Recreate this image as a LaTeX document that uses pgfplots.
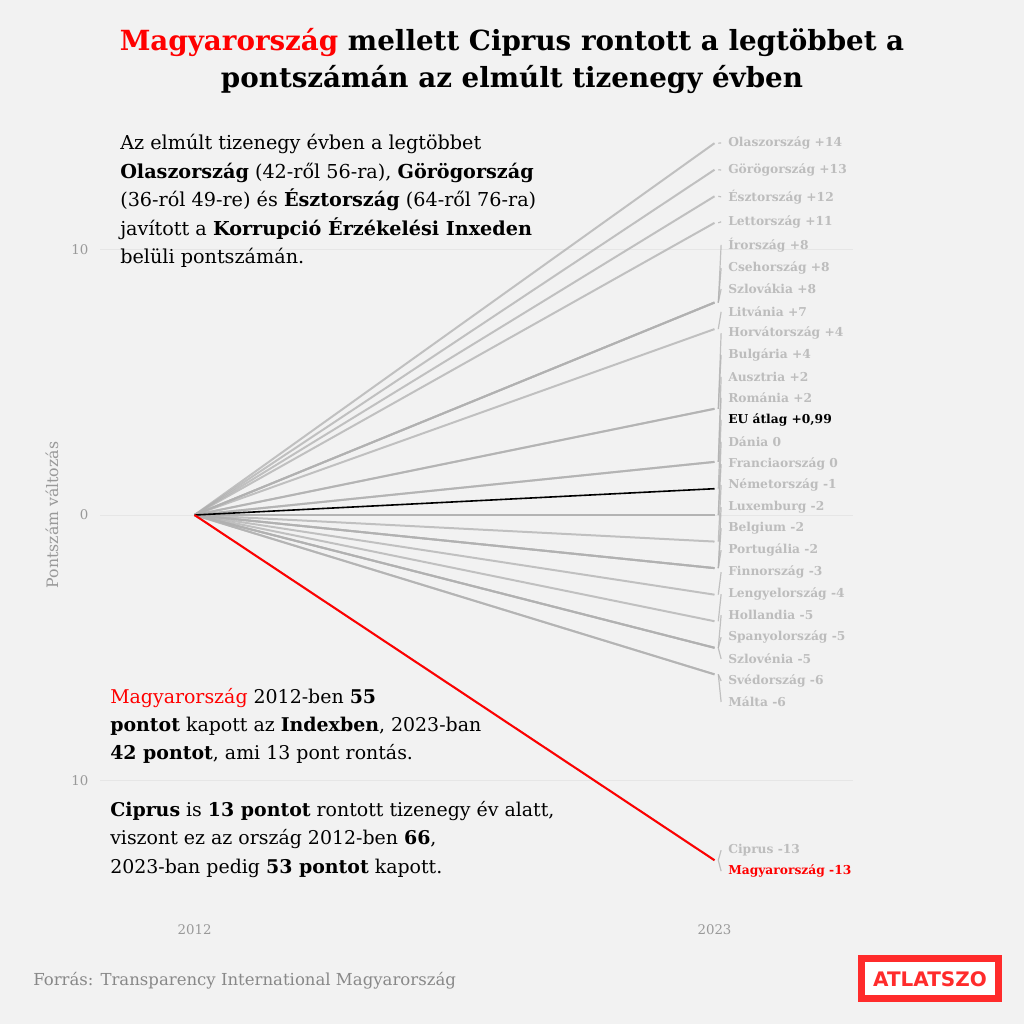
\documentclass[border=0pt]{standalone}
\usepackage{pgfplots}
\pgfplotsset{compat=1.18}
\usepackage{fontspec}
\setmainfont{DejaVu Serif}
\newfontfamily\logofont{DejaVu Sans}
\definecolor{bg}{HTML}{F2F2F2}
\definecolor{lgray}{HTML}{B0B0B0}
\definecolor{lab}{HTML}{BDBDBD}
\definecolor{tickc}{HTML}{999999}
\definecolor{srcc}{HTML}{888888}
\definecolor{gridc}{HTML}{E6E6E6}
\definecolor{myred}{HTML}{FF0000}
\definecolor{logored}{HTML}{FF2B2B}
\begin{document}
\begin{tikzpicture}[
  lc/.style={draw=lgray, draw opacity=0.75, line width=1.5pt},
  seg/.style={draw=lgray, draw opacity=0.75, line width=0.9pt},
  lbl/.style={anchor=west, inner sep=0pt, text=lab, font=\bfseries\fontsize{9.2}{11}\selectfont},
]
\begin{scope}[x=0.75pt,y=-0.75pt]
\fill[bg] (0,0) rectangle (1024,1024);
\useasboundingbox (0,0) rectangle (1024,1024);
\end{scope}
\begin{axis}[
  at={(75pt,-690pt)}, anchor=south west,
  scale only axis, width=564.75pt, height=607.5pt,
  xmin=2010, xmax=2025.93, ymin=-15.25, ymax=15.25,
  axis line style={draw=none},
  major tick length=0pt,
  xtick={2012,2023}, xticklabels={2012,2023},
  ytick={-10,0,10}, yticklabels={10,0,10},
  ymajorgrids, grid style={draw=gridc, line width=0.75pt},
  ticklabel style={font=\fontsize{10}{12}\selectfont, text=tickc},
  yticklabel style={xshift=-5.25pt},
  /pgf/number format/assume math mode=true,
  clip=false,
]
% lines 2012 -> 2023 (score change)
\addplot[lc] coordinates {(2012,0) (2023,14)};
\addplot[lc] coordinates {(2012,0) (2023,13)};
\addplot[lc] coordinates {(2012,0) (2023,12)};
\addplot[lc] coordinates {(2012,0) (2023,11)};
\addplot[lc] coordinates {(2012,0) (2023,8)};
\addplot[lc] coordinates {(2012,0) (2023,8)};
\addplot[lc] coordinates {(2012,0) (2023,8)};
\addplot[lc] coordinates {(2012,0) (2023,7)};
\addplot[lc] coordinates {(2012,0) (2023,4)};
\addplot[lc] coordinates {(2012,0) (2023,4)};
\addplot[lc] coordinates {(2012,0) (2023,2)};
\addplot[lc] coordinates {(2012,0) (2023,2)};
\addplot[lc] coordinates {(2012,0) (2023,0)};
\addplot[lc] coordinates {(2012,0) (2023,0)};
\addplot[lc] coordinates {(2012,0) (2023,-1)};
\addplot[lc] coordinates {(2012,0) (2023,-2)};
\addplot[lc] coordinates {(2012,0) (2023,-2)};
\addplot[lc] coordinates {(2012,0) (2023,-2)};
\addplot[lc] coordinates {(2012,0) (2023,-3)};
\addplot[lc] coordinates {(2012,0) (2023,-4)};
\addplot[lc] coordinates {(2012,0) (2023,-5)};
\addplot[lc] coordinates {(2012,0) (2023,-5)};
\addplot[lc] coordinates {(2012,0) (2023,-5)};
\addplot[lc] coordinates {(2012,0) (2023,-6)};
\addplot[lc] coordinates {(2012,0) (2023,-6)};
\addplot[lc] coordinates {(2012,0) (2023,-13)};
\addplot[draw=black, line width=1.2pt] coordinates {(2012,0) (2023,0.99)};
\addplot[draw=myred, line width=1.5pt] coordinates {(2012,0) (2023,-13)};
% label leader segments
\addplot[seg] coordinates {(2023.08,14) (2023.14,14.01)};
\addplot[seg] coordinates {(2023.08,13) (2023.14,12.99)};
\addplot[seg] coordinates {(2023.08,12) (2023.14,11.98)};
\addplot[seg] coordinates {(2023.08,11) (2023.14,11.04)};
\addplot[seg] coordinates {(2023.08,8) (2023.14,10.17)};
\addplot[seg] coordinates {(2023.08,8) (2023.14,9.30)};
\addplot[seg] coordinates {(2023.08,8) (2023.14,8.51)};
\addplot[seg] coordinates {(2023.08,7) (2023.14,7.65)};
\addplot[seg] coordinates {(2023.08,4) (2023.14,6.85)};
\addplot[seg] coordinates {(2023.08,4) (2023.14,6.03)};
\addplot[seg] coordinates {(2023.08,2) (2023.14,5.20)};
\addplot[seg] coordinates {(2023.08,2) (2023.14,4.41)};
\addplot[seg] coordinates {(2023.08,0.99) (2023.14,3.58)};
\addplot[seg] coordinates {(2023.08,0) (2023.14,2.75)};
\addplot[seg] coordinates {(2023.08,0) (2023.14,1.92)};
\addplot[seg] coordinates {(2023.08,-1) (2023.14,1.13)};
\addplot[seg] coordinates {(2023.08,-2) (2023.14,0.30)};
\addplot[seg] coordinates {(2023.08,-2) (2023.14,-0.49)};
\addplot[seg] coordinates {(2023.08,-2) (2023.14,-1.32)};
\addplot[seg] coordinates {(2023.08,-3) (2023.14,-2.15)};
\addplot[seg] coordinates {(2023.08,-4) (2023.14,-2.98)};
\addplot[seg] coordinates {(2023.08,-5) (2023.14,-3.77)};
\addplot[seg] coordinates {(2023.08,-5) (2023.14,-4.60)};
\addplot[seg] coordinates {(2023.08,-5) (2023.14,-5.42)};
\addplot[seg] coordinates {(2023.08,-6) (2023.14,-6.25)};
\addplot[seg] coordinates {(2023.08,-6) (2023.14,-7.04)};
\addplot[seg] coordinates {(2023.08,-13) (2023.14,-12.62)};
\addplot[seg] coordinates {(2023.08,-13) (2023.14,-13.41)};
% labels
\node[lbl] at (axis cs:2023.285,14.01) {Olaszország +14};
\node[lbl] at (axis cs:2023.285,12.99) {Görögország +13};
\node[lbl] at (axis cs:2023.285,11.98) {Észtország +12};
\node[lbl] at (axis cs:2023.285,11.04) {Lettország +11};
\node[lbl] at (axis cs:2023.285,10.17) {Írország +8};
\node[lbl] at (axis cs:2023.285,9.30) {Csehország +8};
\node[lbl] at (axis cs:2023.285,8.51) {Szlovákia +8};
\node[lbl] at (axis cs:2023.285,7.65) {Litvánia +7};
\node[lbl] at (axis cs:2023.285,6.85) {Horvátország +4};
\node[lbl] at (axis cs:2023.285,6.03) {Bulgária +4};
\node[lbl] at (axis cs:2023.285,5.20) {Ausztria +2};
\node[lbl] at (axis cs:2023.285,4.41) {Románia +2};
\node[lbl, text=black] at (axis cs:2023.285,3.58) {EU átlag +0,99};
\node[lbl] at (axis cs:2023.285,2.75) {Dánia 0};
\node[lbl] at (axis cs:2023.285,1.92) {Franciaország 0};
\node[lbl] at (axis cs:2023.285,1.13) {Németország -1};
\node[lbl] at (axis cs:2023.285,0.30) {Luxemburg -2};
\node[lbl] at (axis cs:2023.285,-0.49) {Belgium -2};
\node[lbl] at (axis cs:2023.285,-1.32) {Portugália -2};
\node[lbl] at (axis cs:2023.285,-2.15) {Finnország -3};
\node[lbl] at (axis cs:2023.285,-2.98) {Lengyelország -4};
\node[lbl] at (axis cs:2023.285,-3.77) {Hollandia -5};
\node[lbl] at (axis cs:2023.285,-4.60) {Spanyolország -5};
\node[lbl] at (axis cs:2023.285,-5.42) {Szlovénia -5};
\node[lbl] at (axis cs:2023.285,-6.25) {Svédország -6};
\node[lbl] at (axis cs:2023.285,-7.04) {Málta -6};
\node[lbl] at (axis cs:2023.285,-12.62) {Ciprus -13};
\node[lbl, text=myred] at (axis cs:2023.285,-13.41) {Magyarország -13};
\end{axis}
\begin{scope}[x=0.75pt,y=-0.75pt]
\node[align=center, font=\bfseries\fontsize{20.8}{27.5}\selectfont] at (512,61)
  {\textcolor{myred}{Magyarország} mellett Ciprus rontott a legtöbbet a\\
   pontszámán az elmúlt tizenegy évben};
\node[anchor=north west, align=left, inner sep=0pt, font=\fontsize{14.4}{21.4}\selectfont] at (120,134)
  {Az elmúlt tizenegy évben a legtöbbet\\
   \textbf{Olaszország} (42-ről 56-ra), \textbf{Görögország}\\
   (36-ról 49-re) és \textbf{Észtország} (64-ről 76-ra)\\
   javított a \textbf{Korrupció Érzékelési Inxeden}\\
   belüli pontszámán.};
\node[anchor=north west, align=left, inner sep=0pt, font=\fontsize{14.2}{21.2}\selectfont] at (110,688)
  {\textcolor{myred}{Magyarország} 2012-ben \textbf{55}\\
   \textbf{pontot} kapott az \textbf{Indexben}, 2023-ban\\
   \textbf{42 pontot}, ami 13 pont rontás.\\[21.2pt]
   \textbf{Ciprus} is \textbf{13 pontot} rontott tizenegy év alatt,\\
   viszont ez az ország 2012-ben \textbf{66},\\
   2023-ban pedig \textbf{53 pontot} kapott.};
\node[rotate=90, font=\fontsize{11.8}{13}\selectfont, text=tickc] at (52,515) {Pontszám változás};
\node[anchor=base west, inner sep=0pt, font=\fontsize{12.4}{14}\selectfont, text=srcc] at (33,985)
  {Forrás: Transparency International Magyarország};
\draw[logored, line width=5.25pt, fill=white] (861.5,958.5) rectangle (998.5,998.5);
\node[font=\logofont\bfseries\fontsize{15}{17}\selectfont, text=logored] at (930,979) {ATLATSZO};
\end{scope}
\end{tikzpicture}
\end{document}
